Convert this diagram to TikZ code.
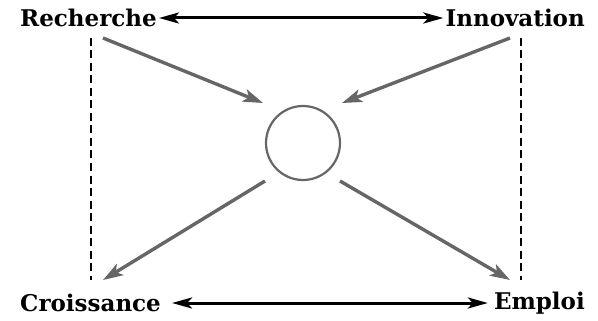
\documentclass[tikz,border=0pt]{standalone}
\usepackage{fontspec}
\setmainfont{DejaVu Serif}
\usetikzlibrary{arrows.meta}
\definecolor{arrgray}{HTML}{666666}
\begin{document}
\begin{tikzpicture}[x=1pt,y=-1pt,
  lab/.style={font=\bfseries\fontsize{23}{26}\selectfont, inner sep=1pt},
  dbl/.style={line width=3pt, {Stealth[length=20pt,width=11pt,inset=5pt]}-{Stealth[length=20pt,width=11pt,inset=5pt]}},
  grayarr/.style={draw=arrgray, line width=3.4pt, -{Stealth[length=20pt,width=13pt,inset=5pt]}},
  dashline/.style={line width=2pt, dash pattern=on 8pt off 4.5pt}
]
\useasboundingbox (0,0) rectangle (598,321);
\node[lab, anchor=west] (rech) at (19,18) {Recherche};
\node[lab, anchor=east] (inno) at (586,18) {Innovation};
\node[lab, anchor=west] (crois) at (19,303) {Croissance};
\node[lab, anchor=east] (emp) at (586,303) {Emploi};
\node[draw=arrgray, line width=2.2pt, circle, minimum size=74pt, inner sep=0pt] (c) at (303,143) {};
\draw[dbl, shorten <=1pt, shorten >=1pt] (rech.east) -- (inno.west);
\draw[dbl, shorten <=10pt, shorten >=5pt] (crois.east) -- (emp.west);
\coordinate (l1) at (91,38); \coordinate (l2) at (91,280);
\coordinate (r1) at (521,38); \coordinate (r2) at (521,280);
\draw[dashline] (l1) -- (l2);
\draw[dashline] (r1) -- (r2);
\coordinate (a1) at (103,38); \coordinate (a2) at (263,103);
\coordinate (b1) at (510,38); \coordinate (b2) at (342,103);
\coordinate (c1) at (265,181); \coordinate (c2) at (103,280);
\coordinate (d1) at (340,181); \coordinate (d2) at (510,280);
\draw[grayarr] (a1) -- (a2);
\draw[grayarr] (b1) -- (b2);
\draw[grayarr] (c1) -- (c2);
\draw[grayarr] (d1) -- (d2);
\end{tikzpicture}
\end{document}
